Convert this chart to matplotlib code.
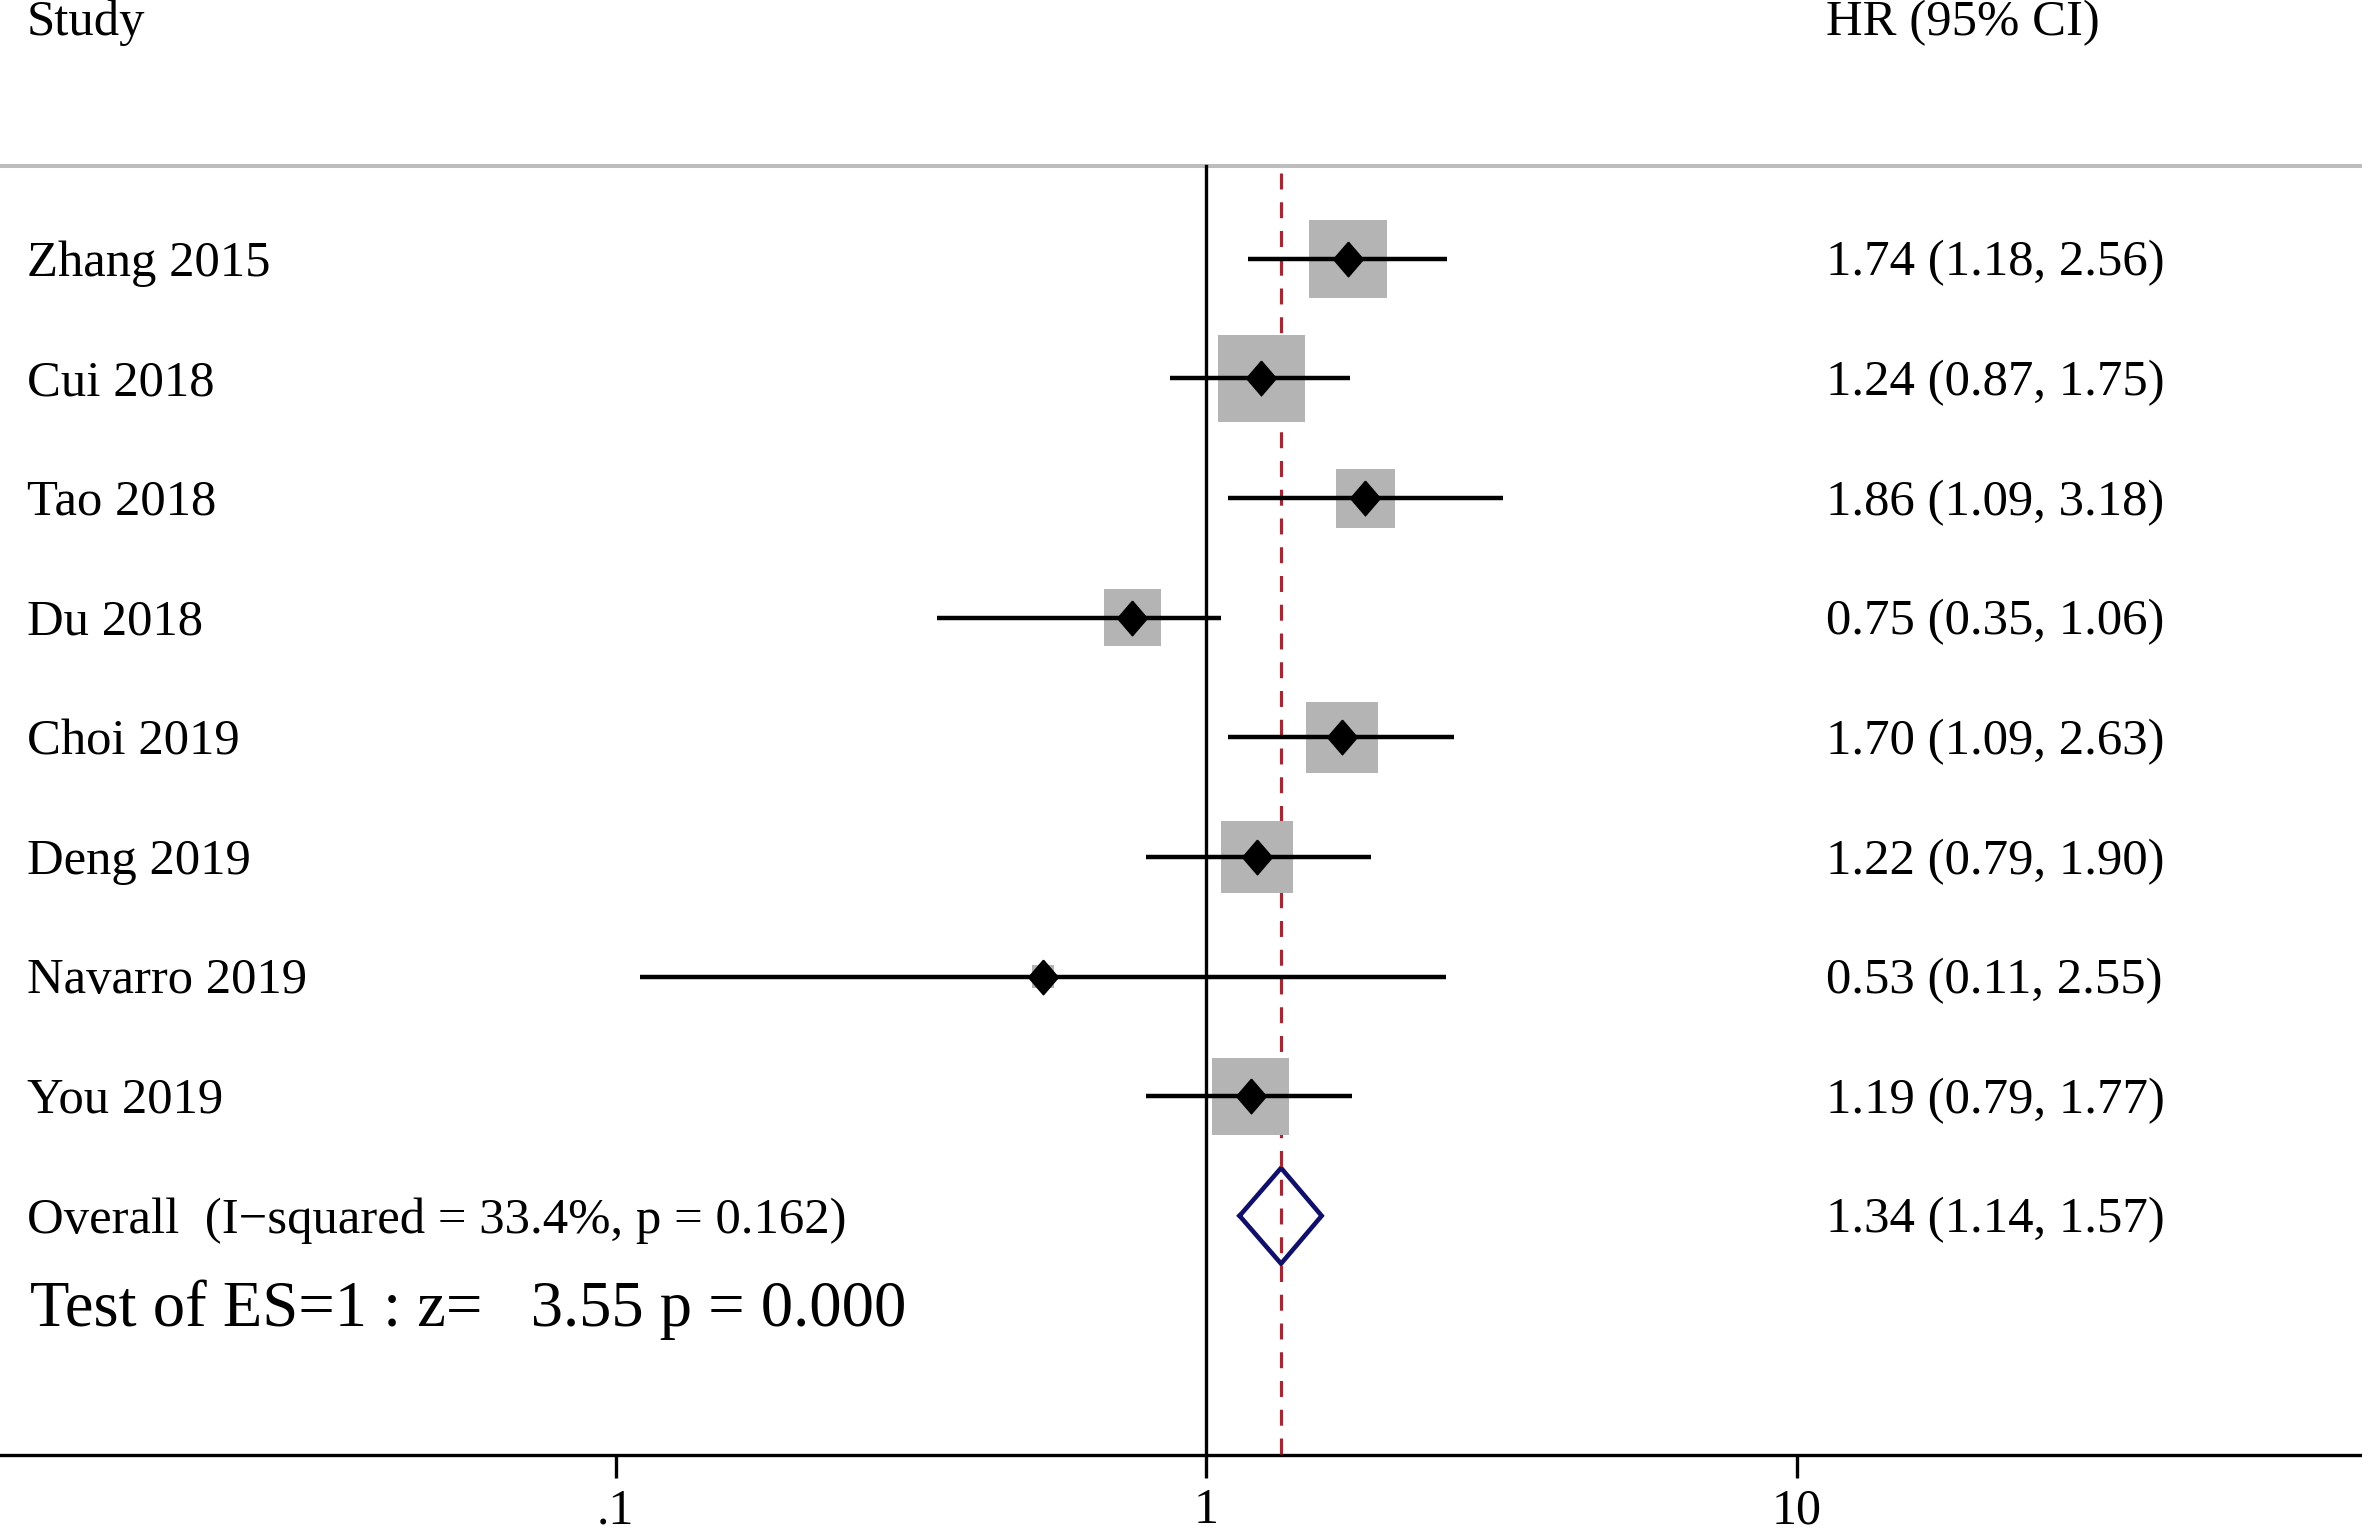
import numpy as np
import matplotlib
matplotlib.use('Agg')
import matplotlib.pyplot as plt

plt.rcParams['font.family'] = ['Liberation Serif', 'DejaVu Serif']

# study data
studies = ['Zhang 2015', 'Cui 2018', 'Tao 2018', 'Du 2018',
           'Choi 2019', 'Deng 2019', 'Navarro 2019', 'You 2019']
hr = [1.74, 1.24, 1.86, 0.75, 1.70, 1.22, 0.53, 1.19]
ci_lo = [1.18, 0.87, 1.09, 0.35, 1.09, 0.79, 0.11, 0.79]
ci_hi = [2.56, 1.75, 3.18, 1.06, 2.63, 1.90, 2.55, 1.77]
weights = [16.7, 20.8, 9.6, 8.9, 13.9, 13.9, 1.4, 16.3]

overall = 1.34
overall_lo = 1.14
overall_hi = 1.57
overall_label = 'Overall  (I\u2212squared = 33.4%, p = 0.162)'
test_label = 'Test of ES=1 : z=   3.55 p = 0.000'

xticks = [0.1, 1, 10]
xtick_labels = ['.1', '1', '10']

fig = plt.figure(figsize=(23.62, 15.31), dpi=100)
ax = fig.add_axes([0, 0.0496, 1, 0.9504])
ax.set_xscale('log')
ax.set_xlim(10 ** (-1206 / 590.5), 10 ** ((2362 - 1206) / 590.5))
ax.set_ylim(10, -2.164)

for s in ['top', 'left', 'right']:
    ax.spines[s].set_visible(False)
ax.spines['bottom'].set_linewidth(2.4)
ax.set_yticks([])
ax.set_xticks(xticks)
ax.set_xticklabels(xtick_labels)
ax.minorticks_off()
ax.tick_params(axis='x', length=16.5, width=2.4, labelsize=36, pad=7)

rows = np.arange(len(studies))

# header rule and reference lines
ax.axhline(-0.777, color='#bdbdbd', lw=2.9, zorder=1)
ax.plot([1, 1], [-0.777, 10], color='black', lw=2.4, zorder=2)
ax.plot([overall, overall], [-0.72, 10], color='#9e2a35', lw=2.3,
        dashes=(5, 4), zorder=4)

# weight boxes
side_pt = 19.1 * np.sqrt(np.array(weights)) * 0.72
ax.scatter(hr, rows, marker='s', s=side_pt ** 2, color='#b4b4b4',
           linewidths=0, zorder=5)

# CIs and point estimates
ax.hlines(rows, ci_lo, ci_hi, color='black', lw=3.2, zorder=6)
diamond = [(0, 1), (0.86, 0), (0, -1), (-0.86, 0), (0, 1)]
ax.plot(hr, rows, linestyle='none', marker=diamond, markersize=25,
        color='black', zorder=7)

# overall diamond
yo = len(studies)
ax.plot([overall_lo, overall, overall_hi, overall, overall_lo],
        [yo, yo - 0.4, yo, yo + 0.4, yo], color='#10106b', lw=3.3,
        solid_joinstyle='miter', zorder=3)

# text columns
tr = ax.get_yaxis_transform()
xl = 27 / 2362
xr = 1826 / 2362
fs = 36.5
ax.text(xl, -1.871, 'Study', transform=tr, fontsize=fs, va='baseline')
ax.text(xr, -1.871, 'HR (95% CI)', transform=tr, fontsize=fs, va='baseline')
for i in rows:
    ax.text(xl, i + 0.14, studies[i], transform=tr, fontsize=fs, va='baseline')
    ax.text(xr, i + 0.14, f'{hr[i]:.2f} ({ci_lo[i]:.2f}, {ci_hi[i]:.2f})',
            transform=tr, fontsize=fs, va='baseline')
ax.text(xl, yo + 0.14, overall_label, transform=tr, fontsize=fs, va='baseline')
ax.text(xr, yo + 0.14, f'{overall:.2f} ({overall_lo:.2f}, {overall_hi:.2f})',
        transform=tr, fontsize=fs, va='baseline')
ax.text(xl + 3 / 2362, 8.92, test_label, transform=tr, fontsize=46.5,
        va='baseline')

fig.savefig('out.png', dpi=100)
